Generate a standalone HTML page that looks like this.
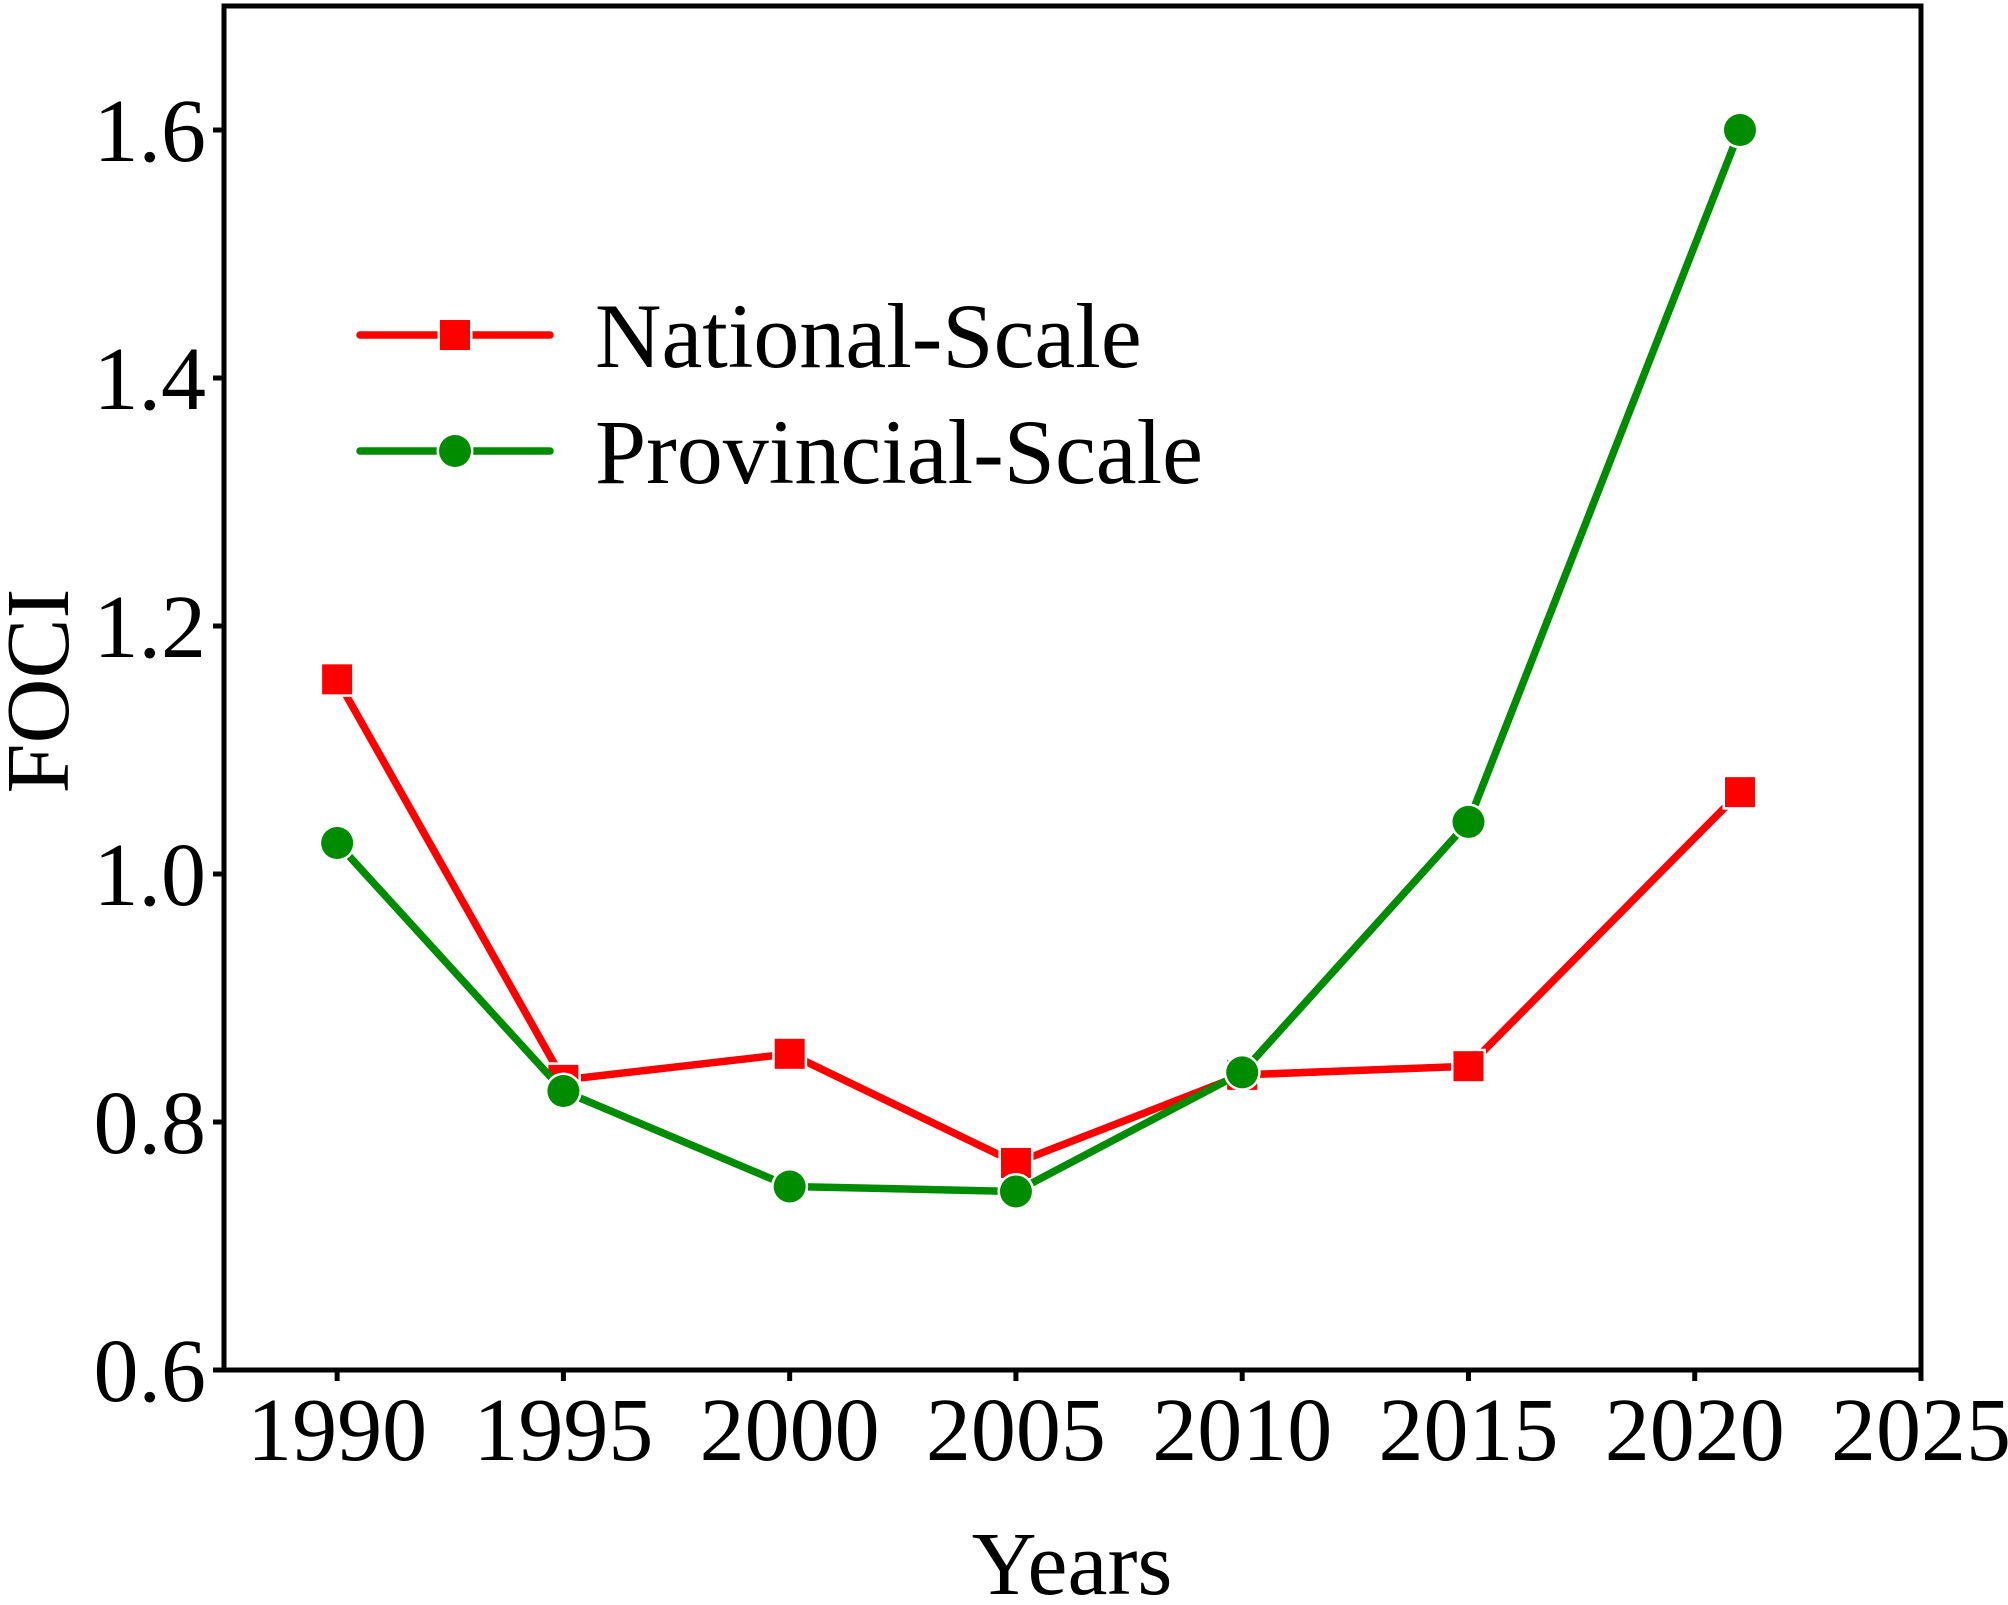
<!DOCTYPE html>
<html><head><meta charset="utf-8"><style>
html,body{margin:0;padding:0;background:#fff;}
svg text{font-family:"Liberation Serif",serif;fill:#000;}
</style></head><body>
<svg id="chart" width="2008" height="1600" xmlns="http://www.w3.org/2000/svg">
<g id="grid"></g><g id="series"></g><g id="axes"></g>
</svg>
<script>
const years = [1990, 1995, 2000, 2005, 2010, 2015, 2021];
const nationalValues = [1.157, 0.834, 0.855, 0.767, 0.838, 0.845, 1.066];
const provincialValues = [1.025, 0.825, 0.748, 0.744, 0.840, 1.042, 1.600];
const xTickLabels = ["1990","1995","2000","2005","2010","2015","2020","2025"];
const yTickLabels = ["0.6","0.8","1.0","1.2","1.4","1.6"];

const L=224, R=1921, T=6, B=1370;
const xMin=1987.5, xMax=2025, yMin=0.6, yMax=1.7;
const sx = v => L + (v - xMin) / (xMax - xMin) * (R - L);
const sy = v => B - (v - yMin) / (yMax - yMin) * (B - T);
const NS="http://www.w3.org/2000/svg";
function mk(tag, attrs, parent){const e=document.createElementNS(NS,tag);for(const k in attrs)e.setAttribute(k,attrs[k]);parent.appendChild(e);return e;}
const svg=document.getElementById('chart');
const ser=document.getElementById('series');
const ax=document.getElementById('axes');

function drawSeries(vals,color,shape,name){
  const g=mk('g',{},ser);
  
  
  const pts=years.map((y,i)=>sx(y)+','+sy(vals[i])).join(' ');
  const pl=mk('polyline',{points:pts,fill:'none',stroke:color,'stroke-width':7.5,'stroke-linejoin':'round','stroke-linecap':'round'},g);
  
  
  years.forEach((y,i)=>{
    let m;
    if(shape==='square') m=mk('rect',{x:sx(y)-15,y:sy(vals[i])-15,width:30,height:30,fill:color,stroke:'#fff','stroke-width':5,'paint-order':'stroke'},g);
    else m=mk('circle',{cx:sx(y),cy:sy(vals[i]),r:16,fill:color,stroke:'#fff','stroke-width':5,'paint-order':'stroke'},g);
    
    
  });
}
drawSeries(nationalValues,'#ff0000','square','national-scale');
drawSeries(provincialValues,'#008c00','circle','provincial-scale');

const fr=mk('rect',{x:L,y:T,width:R-L,height:B-T,fill:'none',stroke:'#000','stroke-width':5},ax);


xTickLabels.forEach(t=>{
  const x=sx(+t);
  const tk=mk('line',{x1:x,x2:x,y1:B,y2:B+11,stroke:'#000','stroke-width':5},ax);
  
  
  const tx=mk('text',{x:x,y:1460,'text-anchor':'middle','font-size':90},ax);
  tx.textContent=t;
  
  
});
yTickLabels.forEach(t=>{
  const y=sy(+t);
  const tk=mk('line',{x1:L-11,x2:L,y1:y,y2:y,stroke:'#000','stroke-width':5},ax);
  
  
  const tx=mk('text',{x:206,y:y+31,'text-anchor':'end','font-size':90},ax);
  tx.textContent=t;
  
  
});
const xt=mk('text',{x:1072,y:1594,'text-anchor':'middle','font-size':90},ax);
xt.textContent='Years';


const yt=mk('text',{x:0,y:0,'text-anchor':'middle','font-size':90,transform:'translate(68,691) rotate(-90)'},ax);
yt.textContent='FOCI';



const lg=mk('g',{},ax);


[['National-Scale','#ff0000','square',335],['Provincial-Scale','#008c00','circle',451]].forEach(([lab,c,s,y])=>{
  const e=mk('g',{},lg);
  
  
  mk('line',{x1:360,x2:550,y1:y,y2:y,stroke:c,'stroke-width':7.5,'stroke-linecap':'round'},e);
  if(s==='square') mk('rect',{x:440,y:y-15,width:30,height:30,fill:c,stroke:'#fff','stroke-width':5,'paint-order':'stroke'},e);
  else mk('circle',{cx:455,cy:y,r:16,fill:c,stroke:'#fff','stroke-width':5,'paint-order':'stroke'},e);
  const t=mk('text',{x:595,y:y+32,'font-size':92},e);
  t.textContent=lab;
});
</script>
</body></html>
